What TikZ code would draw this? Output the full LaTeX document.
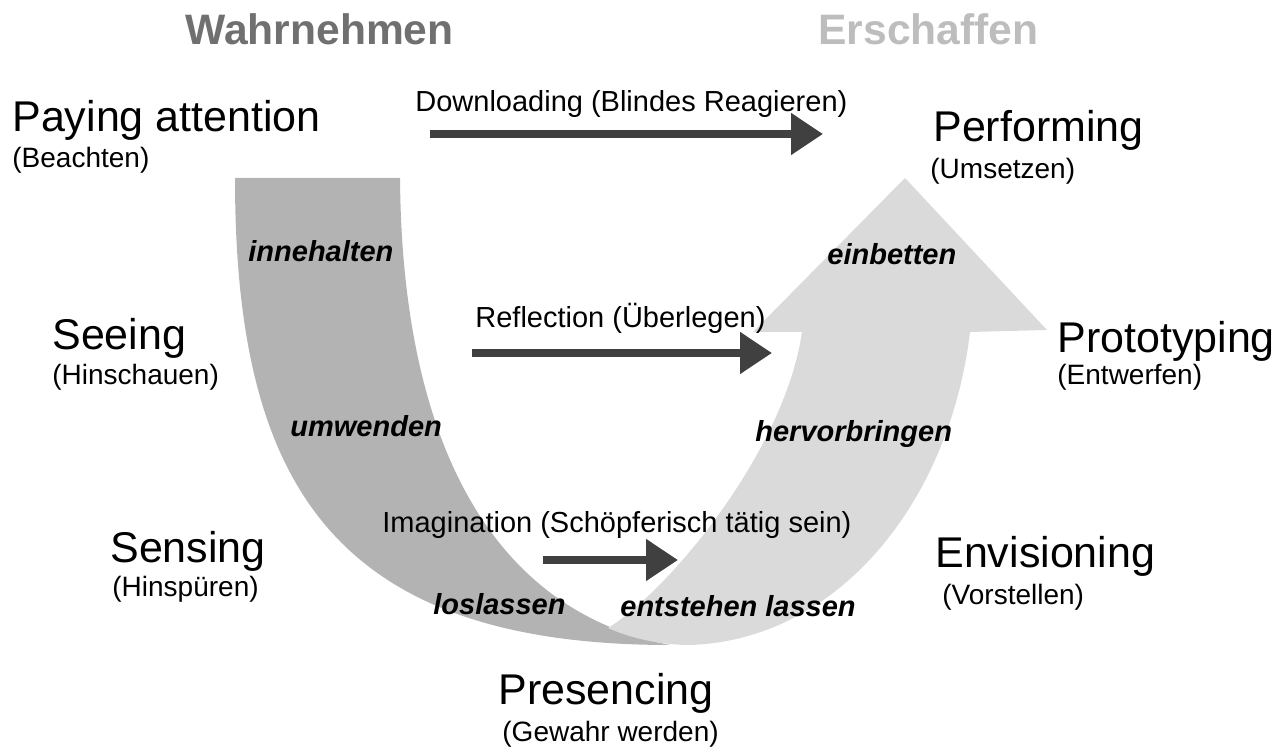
\documentclass[tikz,border=0pt]{standalone}
\usepackage{fontspec}
\setmainfont{Liberation Sans}
\usetikzlibrary{arrows.meta}

\definecolor{darkband}{HTML}{B3B3B3}
\definecolor{lightband}{HTML}{DADADA}
\definecolor{arrowgray}{HTML}{404040}
\definecolor{headdark}{HTML}{707070}
\definecolor{headlight}{HTML}{BDBDBD}

\tikzset{
  big/.style={font=\fontsize{21.5}{24}\selectfont, anchor=base west, inner sep=0pt},
  small/.style={font=\fontsize{14}{16}\selectfont, anchor=base west, inner sep=0pt},
  head/.style={font=\fontsize{21.3}{24}\selectfont\bfseries, anchor=base west, inner sep=0pt},
  verb/.style={font=\fontsize{14.5}{17}\selectfont\bfseries\itshape, anchor=base west, inner sep=0pt},
  flowlabel/.style={font=\fontsize{14.5}{17}\selectfont, anchor=base west, inner sep=0pt},
  flow/.style={draw=arrowgray, line width=4pt, -{Triangle[length=16pt,width=20pt]}}
}

\begin{document}
\begin{tikzpicture}[x=0.5pt, y=-0.5pt]
      \useasboundingbox (0,0) rectangle (1282,753);

      % the U
      \fill[darkband] (235,178) -- (400,178)
        .. controls (402,440) and (490,610) .. (670,645)
        .. controls (330,645) and (235,480) .. (235,178) -- cycle;
      \fill[lightband] (608,628) .. controls (670,590) and (785,450) .. (802,332)
        -- (753,332) -- (905,178) -- (1047,330) -- (970,332)
        .. controls (950,500) and (840,640) .. (690,645)
        .. controls (660,645) and (630,638) .. (608,628) -- cycle;

      \node[head, text=headdark]  (wahr) at (185,45) {Wahrnehmen};
      \node[head, text=headlight] (ersch) at (818,45) {Erschaffen};

      \node[big]   (paying)    at (12,132)  {Paying attention};
      \node[small] (paying-de) at (12,168)  {(Beachten)};
      \node[big]   (seeing)    at (52,350)  {Seeing};
      \node[small] (seeing-de) at (52,385)  {(Hinschauen)};
      \node[big]   (sensing)   at (110,563) {Sensing};
      \node[small] (sensing-de) at (112,597) {(Hinspüren)};
      \node[big]   (presencing) at (498,705) {Presencing};
      \node[small] (presencing-de) at (502,742) {(Gewahr werden)};
      \node[big]   (envisioning) at (935,568) {Envisioning};
      \node[small] (envisioning-de) at (942,605) {(Vorstellen)};
      \node[big]   (prototyping) at (1057,353) {Prototyping};
      \node[small] (prototyping-de) at (1057,385) {(Entwerfen)};
      \node[big]   (performing) at (933,142) {Performing};
      \node[small] (performing-de) at (930,179) {(Umsetzen)};

      \node[verb] (innehalten) at (248,262) {innehalten};
      \node[verb] (umwenden)   at (290,437) {umwenden};
      \node[verb] (loslassen)  at (433,615) {loslassen};
      \node[verb] (entstehen)  at (620,617) {entstehen lassen};
      \node[verb] (hervor)     at (755,442) {hervorbringen};
      \node[verb] (einbetten)  at (827,265) {einbetten};

      % levels
      \node[flowlabel] (download) at (415,112) {Downloading (Blindes Reagieren)};
      \node[flowlabel] (reflect)  at (475,328) {Reflection (Überlegen)};
      \node[flowlabel] (imagine)  at (382,533) {Imagination (Schöpferisch tätig sein)};

      \coordinate (download-a) at (430,134);
      \coordinate (download-b) at (823,134);
      \coordinate (reflect-a)  at (472,353);
      \coordinate (reflect-b)  at (772,353);
      \coordinate (imagine-a)  at (543,560);
      \coordinate (imagine-b)  at (678,560);

      \draw[flow] (download-a) -- (download-b);
      \draw[flow] (reflect-a) -- (reflect-b);
      \draw[flow] (imagine-a) -- (imagine-b);
    \end{tikzpicture}
\end{document}
